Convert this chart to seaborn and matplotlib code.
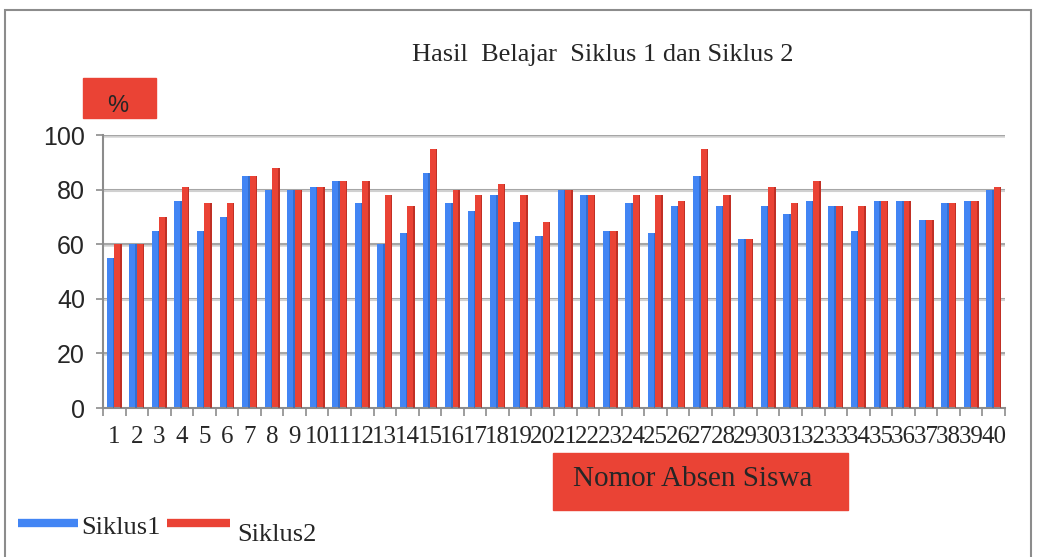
import pandas as pd
import seaborn as sns
import matplotlib.pyplot as plt
from matplotlib.patches import Rectangle

# nilai per siswa
nomor = [str(i) for i in range(1, 41)]
siklus1 = [55, 60, 65, 76, 65, 70, 85, 80, 80, 81,
           83, 75, 60, 64, 86, 75, 72, 78, 68, 63,
           80, 78, 65, 75, 64, 74, 85, 74, 62, 74,
           71, 76, 74, 65, 76, 76, 69, 75, 76, 80]
siklus2 = [60, 60, 70, 81, 75, 75, 85, 88, 80, 81,
           83, 83, 78, 74, 95, 80, 78, 82, 78, 68,
           80, 78, 65, 78, 78, 76, 95, 78, 62, 81,
           75, 83, 74, 74, 76, 76, 69, 75, 76, 81]
series = ['Siklus1', 'Siklus2']

df = pd.DataFrame({'Nomor': nomor * 2,
                   'Nilai': siklus1 + siklus2,
                   'Seri': [series[0]] * 40 + [series[1]] * 40})

sns.set_theme(style="white")
serif = ['Liberation Serif', 'DejaVu Serif']
sans = ['Liberation Sans', 'DejaVu Sans']
blue = '#4285f4'
red = '#ea4335'

fig = plt.figure(figsize=(10.38, 5.57), dpi=100)
ax = fig.add_axes([0.0992, 0.2675, 0.8690, 0.4901])

# garis grid
for y in range(20, 101, 20):
    ax.axhline(y, color='#a6a6a6', lw=2.2, zorder=0)
    ax.axhline(y - 0.6, color='#d9d9d9', lw=1.2, zorder=0)

sns.barplot(data=df, x='Nomor', y='Nilai', hue='Seri', palette=[blue, red],
            saturation=1, width=0.66, ax=ax, legend=False, zorder=2,
            edgecolor='none')
# sisi gelap kanan tiap batang
for p in list(ax.patches):
    x0, w, h = p.get_x(), p.get_width(), p.get_height()
    c = '#2a5cb0' if p.get_facecolor()[2] > 0.5 else '#9e2219'
    ax.add_patch(Rectangle((x0 + w * 0.8, 0), w * 0.2, h,
                           color=c, alpha=0.55, zorder=3, lw=0))

ax.set_xlim(-0.5, 39.5)
ax.set_ylim(0, 100)
ax.set_yticks(range(0, 101, 20))
ax.set_yticklabels([str(v) for v in range(0, 101, 20)], family=sans, fontsize=18)
ax.set_xticks(range(40))
ax.set_xticklabels(nomor, family=serif, fontsize=18)
ax.set_xticks([i - 0.5 for i in range(41)], minor=True)
ax.tick_params(axis='x', which='major', length=0, pad=13)
ax.tick_params(axis='x', which='minor', length=6, color='#8c8c8c', width=1.2, bottom=True)
ax.tick_params(axis='y', length=5, color='#8c8c8c', width=1.2, left=True, pad=8)
ax.set_xlabel('')
ax.set_ylabel('')
for s in ['top', 'right']:
    ax.spines[s].set_visible(False)
for s in ['left', 'bottom']:
    ax.spines[s].set_color('#8c8c8c')
    ax.spines[s].set_linewidth(1.5)

# bingkai luar
fig.patches.append(Rectangle((0.005, -0.01), 0.988, 0.992, transform=fig.transFigure,
                             fill=False, edgecolor='#8c8c8c', lw=1.5))

fig.text(0.581, 0.902, 'Hasil  Belajar  Siklus 1 dan Siklus 2', family=serif,
         fontsize=19, ha='center', va='center')

# kotak merah label
fig.patches.append(Rectangle((0.080, 0.788), 0.070, 0.072, transform=fig.transFigure,
                             color=red, zorder=1))
fig.text(0.113, 0.810, '%', family=sans, fontsize=17, ha='center', va='center')
fig.patches.append(Rectangle((0.533, 0.084), 0.284, 0.103, transform=fig.transFigure,
                             color=red, zorder=1))
fig.text(0.667, 0.140, 'Nomor Absen Siswa', family=serif, fontsize=21,
         ha='center', va='center')

# legenda
fig.add_artist(plt.Line2D([0.017, 0.075], [0.061, 0.061], color=blue, lw=6,
                          solid_capstyle='butt', transform=fig.transFigure))
fig.text(0.078, 0.052, series[0], family=serif, fontsize=19, va='center')
fig.add_artist(plt.Line2D([0.161, 0.222], [0.061, 0.061], color=red, lw=6,
                          solid_capstyle='butt', transform=fig.transFigure))
fig.text(0.229, 0.040, series[1], family=serif, fontsize=19, va='center')

fig.savefig('out.png', dpi=100)
